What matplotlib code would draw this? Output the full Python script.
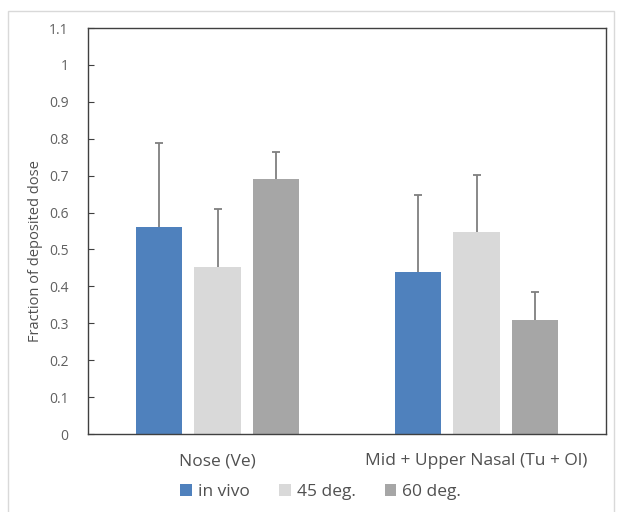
import numpy as np
import matplotlib.pyplot as plt
from matplotlib.patches import Rectangle

# data
regions = ["Nose (Ve)", "Mid + Upper Nasal (Tu + Ol)"]
series = ["in vivo", "45 deg.", "60 deg."]
means = [
    [0.561, 0.440],   # in vivo
    [0.453, 0.547],   # 45 deg.
    [0.690, 0.310],   # 60 deg.
]
upper_err = [
    [0.228, 0.207],
    [0.156, 0.155],
    [0.074, 0.076],
]
colors = ["#4F81BD", "#D9D9D9", "#A6A6A6"]

fig = plt.figure(figsize=(6.23, 5.12), dpi=100)
ax = fig.add_axes([0.1413, 0.1523, 0.8315, 0.793])

# light chart border like the excel frame
fig.patches.append(Rectangle((0.013, -0.01), 0.972, 0.988, transform=fig.transFigure,
                             fill=False, edgecolor="#d9d9d9", linewidth=1.0))

x = np.arange(len(regions))
width = 0.178
step = 0.226
for i, name in enumerate(series):
    pos = x + (i - 1) * step
    top = np.array(means[i]) + np.array(upper_err[i])
    ax.bar(pos, means[i], width, color=colors[i], label=name, zorder=2)
    # only the upper half of the error bar, like excel's "plus" direction
    ax.vlines(pos, means[i], top, color="#7f7f7f", linewidth=1.3, zorder=3)
    ax.plot(pos, top, ls="none", marker="_", ms=6, mew=1.3, color="#7f7f7f", zorder=3)

ax.set_xlim(-0.5, 1.5)
ax.set_ylim(0, 1.1)
ax.set_yticks(np.arange(0, 1.11, 0.1))
ax.set_yticklabels(["0", "0.1", "0.2", "0.3", "0.4", "0.5", "0.6", "0.7",
                    "0.8", "0.9", "1", "1.1"], family="Open Sans")
ax.set_xticks(x)
ax.set_xticklabels(regions, family="Open Sans", fontsize=12.5, color="#505050")
ax.tick_params(axis="x", length=0, pad=14)
ax.tick_params(axis="y", direction="in", length=4, labelsize=10,
               labelcolor="#606060", color="#404040", pad=14)
for s in ax.spines.values():
    s.set_color("#404040")
    s.set_linewidth(1.0)

ax.set_ylabel("Fraction of deposited dose", family="Open Sans",
              fontsize=10.5, color="#505050")
ax.yaxis.set_label_coords(-0.087, 0.45)

leg = fig.legend(loc="center", bbox_to_anchor=(0.515, 0.039), ncol=3, frameon=False,
                 prop={"family": "Open Sans", "size": 12.5}, handlelength=0.65,
                 handleheight=0.65, handletextpad=0.35, columnspacing=1.7)
for t in leg.get_texts():
    t.set_color("#505050")

fig.savefig("out.png", dpi=100)
